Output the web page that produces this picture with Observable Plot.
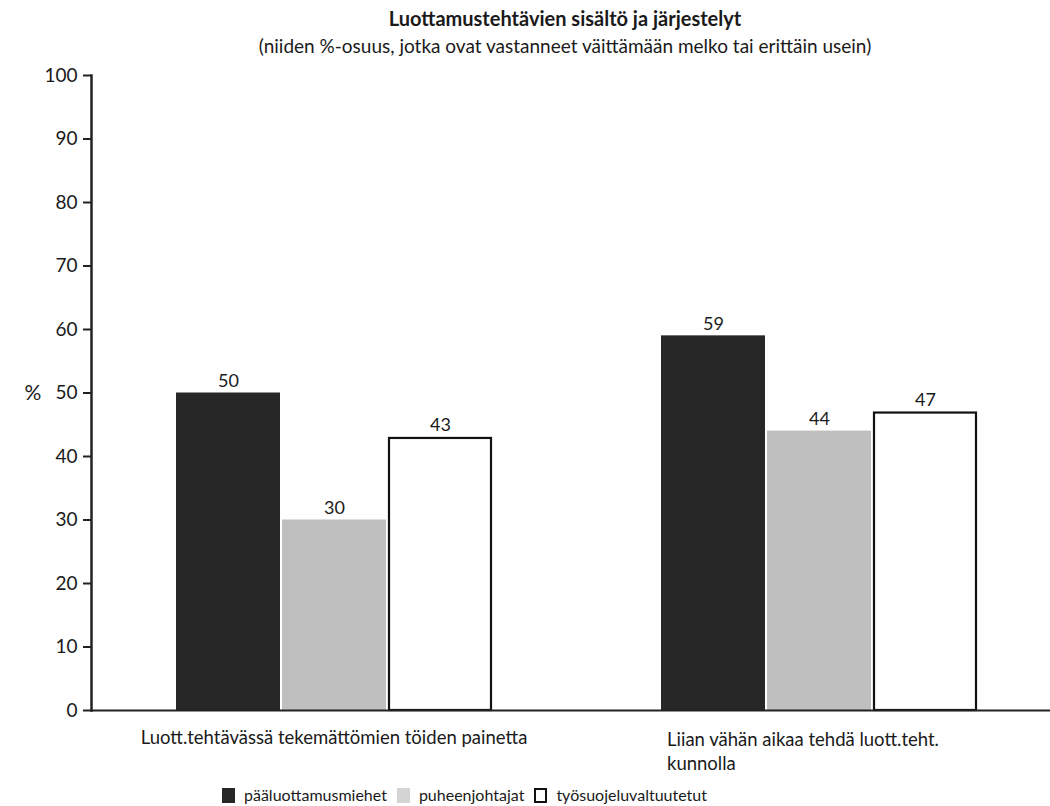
<!DOCTYPE html>
<html><head><meta charset="utf-8">
<script src="https://cdn.jsdelivr.net/npm/d3@7"></script>
<script src="https://cdn.jsdelivr.net/npm/@observablehq/plot@0.6"></script>
<style>
body{margin:0;background:#fff;font-family:Lato,"Open Sans",sans-serif;color:#1a1a1a;width:1050px;height:806px;overflow:hidden;position:relative;}
#head{height:62px;position:relative;}
#head .t{position:absolute;left:80px;right:0;top:6px;text-align:center;font-weight:bold;font-size:20px;line-height:24px;}
#head .s{position:absolute;left:80px;right:0;top:34px;text-align:center;font-size:19px;line-height:24px;}
#chart svg{display:block;}
#legend{position:absolute;left:222px;top:785px;display:flex;align-items:center;font-size:16px;line-height:20px;}
#legend .item{display:flex;align-items:center;margin-right:10px;}
#legend .sw{width:13px;height:15px;margin-right:9px;box-sizing:border-box;}
</style></head><body>
<div id="head"><div class="t">Luottamustehtävien sisältö ja järjestelyt</div><div class="s">(niiden %-osuus, jotka ovat vastanneet väittämään melko tai erittäin usein)</div></div>
<div id="chart"></div>
<div id="legend"></div>
<script>
const groups = ["Luott.tehtävässä tekemättömien töiden painetta", "Liian vähän aikaa tehdä luott.teht. kunnolla"];
const seriesNames = ["pääluottamusmiehet", "puheenjohtajat", "työsuojeluvaltuutetut"];
const valuesGroup1 = [50, 30, 43];
const valuesGroup2 = [59, 44, 47];
const yTicks = [0, 10, 20, 30, 40, 50, 60, 70, 80, 90, 100];
const seriesColors = ["#272727", "#bfbfbf", "#ffffff"];

const data = [valuesGroup1, valuesGroup2].flatMap((vals, gi) =>
  vals.map((v, si) => ({group: groups[gi], series: seriesNames[si], value: v})));

const chart = Plot.plot({
  width: 1050, height: 728,
  marginLeft: 91, marginRight: 0, marginTop: 13, marginBottom: 80,
  style: {fontFamily: "Lato, 'Open Sans', sans-serif", fontSize: "18px", color: "#1a1a1a", background: "#fff"},
  fx: {domain: groups, range: [91, 1061], padding: 0, axis: null},
  x: {domain: seriesNames, paddingInner: 0.02, paddingOuter: 0.78, axis: null},
  y: {domain: [0, 100]},
  color: {domain: seriesNames, range: seriesColors},
  marks: [
    Plot.barY(data, {fx: "group", x: "series", y: "value", fill: "series"}),
    Plot.barY(data.filter(d => d.series === seriesNames[2]), {fx: "group", x: "series", y: "value", fill: "none", stroke: "#111", strokeWidth: 2.2, insetLeft: 1, insetRight: 1, insetTop: 1}),
    Plot.ruleY([0], {stroke: "#222", strokeWidth: 2}),
    Plot.axisY({ticks: yTicks, tickSize: 8, tickPadding: 6, strokeWidth: 2, fontSize: 19, label: null, fill: "#1a1a1a", stroke: "#222"}),
    Plot.frame({anchor: "left", facetAnchor: "left", stroke: "#222", strokeWidth: 2.5}),
    Plot.text(data, {fx: "group", x: "series", y: "value", text: d => String(d.value), dy: -12, fontSize: 18, fill: "#1a1a1a"}),
    Plot.text(["%"], {fx: () => groups[0], y: () => 50, frameAnchor: "left", dx: -67, fontSize: 21, fill: "#1a1a1a"}),
    Plot.text([groups[0]], {fx: d => d, text: d => d, frameAnchor: "bottom", lineAnchor: "top", dy: 20, fontSize: 18.5, fill: "#1a1a1a"}),
    Plot.text([groups[1]], {fx: d => d, text: d => d, frameAnchor: "bottom", lineAnchor: "top", textAnchor: "start", dx: -152, dy: 18, lineWidth: 17.5, lineHeight: 1.3, fontSize: 18.5, fill: "#1a1a1a"})
  ]
});
document.getElementById("chart").append(chart);

const legend = document.getElementById("legend");
seriesNames.forEach((name, i) => {
  const item = document.createElement("div");
  item.className = "item";
  const sw = document.createElement("div");
  sw.className = "sw";
  sw.style.background = seriesColors[i];
  if (i === 2) sw.style.border = "2px solid #111";
  if (i === 1) { sw.style.background = "#d4d4d4"; }
  const label = document.createElement("span");
  label.textContent = name;
  item.append(sw, label);
  legend.append(item);
});
</script>
</body></html>
